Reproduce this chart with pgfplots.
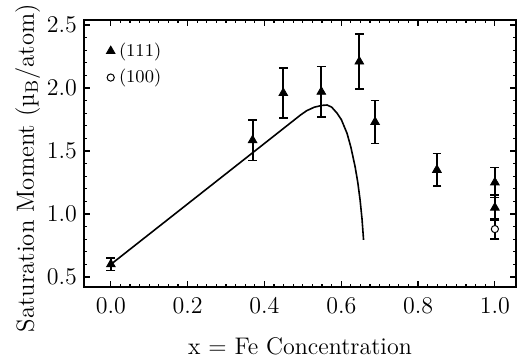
\documentclass[border=0pt]{standalone}
\usepackage{pgfplots}
\pgfplotsset{compat=1.18}
\begin{document}
\begin{tikzpicture}
\begin{axis}[
  scale only axis,
  width=216pt, height=133.5pt,
  xmin=-0.07, xmax=1.055,
  ymin=0.42, ymax=2.54,
  xtick={0,0.2,0.4,0.6,0.8,1.0},
  ytick={0.5,1.0,1.5,2.0,2.5},
  minor x tick num=7,
  minor y tick num=4,
  xticklabel style={/pgf/number format/fixed, /pgf/number format/fixed zerofill, /pgf/number format/precision=1, font=\large, yshift=-2pt},
  yticklabel style={/pgf/number format/fixed, /pgf/number format/fixed zerofill, /pgf/number format/precision=1, font=\large},
  tick align=inside,
  major tick length=3pt,
  minor tick length=1.4pt,
  axis line style={line width=1pt},
  tick style={line width=0.6pt, black},
  xlabel={x = Fe Concentration},
  ylabel={Saturation Moment (µ$_\mathrm{B}$/atom)},
  xlabel style={font=\large, yshift=-5pt},
  ylabel style={font=\fontsize{12.4}{14}\selectfont, at={(ticklabel cs:0.445)}, yshift=-3.5pt},
  legend style={at={(0.037,0.946)}, anchor=north west, draw=none, fill=none, font=\small, row sep=1pt},
  legend cell align=left,
]
\coordinate (bl) at (rel axis cs:0,0);
\coordinate (tr) at (rel axis cs:1,1);
\addplot[black, line width=0.8pt, forget plot] coordinates {
(0.0,0.60) (0.1,0.84) (0.2,1.08) (0.3,1.32) (0.4,1.56) (0.494,1.786) (0.51,1.82) (0.53,1.848) (0.55,1.862) (0.563,1.865) (0.575,1.848) (0.589,1.80) (0.60,1.75) (0.615,1.64) (0.625,1.53) (0.636,1.375) (0.643,1.25) (0.649,1.11) (0.654,0.96) (0.658,0.794)
};
\addplot[black, only marks, mark=triangle*, mark size=2.5pt, forget plot,
  error bars/.cd, y dir=both, y explicit,
  error bar style={line width=1pt},
  error mark options={rotate=90, mark size=2.2pt, line width=0.8pt}]
  coordinates {
(0.0,0.60) +- (0,0.05)
(0.369,1.585) +- (0,0.16)
(0.449,1.96) +- (0,0.20)
(0.548,1.97) +- (0,0.20)
(0.647,2.21) +- (0,0.22)
(0.688,1.73) +- (0,0.17)
(0.849,1.35) +- (0,0.13)
(1.0,1.25) +- (0,0.12)
(1.0,1.05) +- (0,0.10)
};
\addplot[black, only marks, mark=*, mark options={fill=white, line width=0.5pt}, mark size=1.8pt, forget plot,
  error bars/.cd, y dir=both, y explicit,
  error bar style={line width=1pt},
  error mark options={rotate=90, mark size=2.2pt, line width=0.8pt}]
  coordinates {
(1.0,0.88) +- (0,0.08)
};
\addlegendimage{black, only marks, mark=triangle*, mark size=2.5pt}
\addlegendentry{(111)}
\addlegendimage{black, only marks, mark=*, mark options={fill=white, line width=0.5pt}, mark size=1.8pt}
\addlegendentry{(100)}
\end{axis}
\pgfresetboundingbox
\path[use as bounding box] ([xshift=-42pt,yshift=-35.5pt]bl) rectangle ([xshift=0.5pt,yshift=10pt]tr);
\end{tikzpicture}
\end{document}
